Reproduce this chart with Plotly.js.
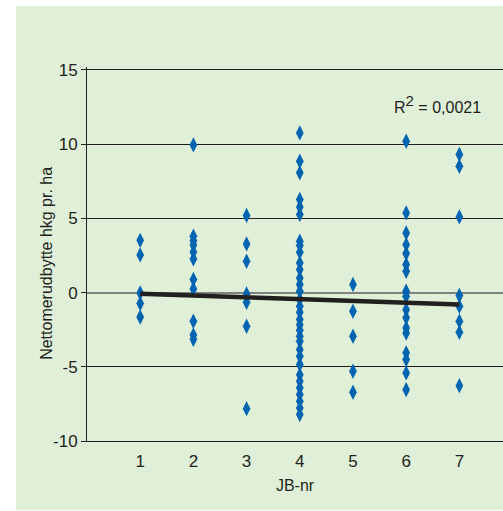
<!DOCTYPE html>
<html>
<head>
<meta charset="utf-8">
<script src="https://cdn.plot.ly/plotly-3.0.1.min.js"></script>
<style>
  html, body { margin: 0; padding: 0; background: #ffffff; width: 503px; height: 511px; overflow: hidden; }
  #chart { position: absolute; left: 16px; top: 6px; width: 487px; height: 504px; }
</style>
</head>
<body>
<div id="chart"></div>
<script>
// JB-nr categories and the net yield values
const jb1 = [3.52, 2.54, -0.02, -0.74, -1.64];
const jb2 = [9.95, 3.8, 3.5, 3.2, 2.74, 2.27, 0.88, 0.25, -1.93, -2.85, -3.15];
const jb3 = [5.2, 3.28, 2.11, -0.09, -0.65, -2.27, -7.82];
const jb4 = [10.76, 8.85, 8.07, 6.27, 5.77, 5.26, 3.46, 3.17, 2.72, 2.0, 1.55, 0.99, 0.54, 0.09,
             -0.47, -0.92, -1.33, -1.82, -2.16, -2.54, -2.94, -3.28, -3.84, -4.29, -4.85, -5.53,
             -5.98, -6.42, -6.87, -7.32, -7.77, -8.22];
const jb5 = [0.54, -1.26, -2.94, -5.3, -6.72];
const jb6 = [10.2, 5.37, 4.02, 3.23, 2.63, 1.89, 1.44, 0.09, -0.25, -1.15, -1.7, -2.38, -2.72,
             -4.06, -4.51, -5.41, -6.54];
const jb7 = [9.3, 8.51, 5.1, -0.2, -0.92, -1.93, -2.67, -6.27];
const groups = [jb1, jb2, jb3, jb4, jb5, jb6, jb7];

// trend line endpoints
const trendX = [1, 7];
const trendY = [-0.07, -0.8];

const xTicks = [1, 2, 3, 4, 5, 6, 7];
const yTicks = [-10, -5, 0, 5, 10, 15];
const r2Text = 'R<sup><span style="font-size:15px">2</span></sup> = 0,0021';
const yTitle = 'Nettomerudbytte hkg pr. ha';
const xTitle = 'JB-nr';

const xs = [], ys = [];
groups.forEach((g, i) => g.forEach(v => { xs.push(xTicks[i]); ys.push(v); }));

const ink = '#231f20';
const traces = [
  {
    type: 'scatter', mode: 'markers', x: xs, y: ys,
    marker: { symbol: 'diamond-tall', size: 11, color: '#0064b0', line: { width: 0 } },
    hoverinfo: 'skip'
  },
  {
    type: 'scatter', mode: 'lines', x: trendX, y: trendY,
    line: { color: ink, width: 4.5 },
    hoverinfo: 'skip'
  }
];

const layout = {
  width: 487, height: 504,
  paper_bgcolor: '#e0efd8', plot_bgcolor: 'rgba(0,0,0,0)',
  margin: { l: 70.5, r: 0, t: 61, b: 69 },
  showlegend: false,
  font: { family: 'Liberation Sans, Arial, sans-serif', size: 16, color: ink },
  xaxis: {
    range: [0, 7.82], tickvals: xTicks, ticktext: xTicks.map(String),
    showgrid: false, zeroline: false, showline: true, linecolor: ink, linewidth: 1,
    ticks: '', ticklabelstandoff: 5, tickfont: { size: 17, color: ink },
    title: { text: xTitle, font: { size: 16, color: ink }, standoff: 9 }
  },
  yaxis: {
    range: [-10, 15.2], tickvals: yTicks, ticktext: yTicks.map(String),
    showgrid: true, gridcolor: ink, gridwidth: 1,
    zeroline: true, zerolinecolor: '#7f8080', zerolinewidth: 2,
    showline: true, linecolor: ink, linewidth: 1,
    ticks: 'outside', ticklen: 5, tickcolor: ink, tickwidth: 1,
    tickfont: { size: 17, color: ink }
  },
  annotations: [
    { xref: 'paper', yref: 'paper', x: 0.842, y: 0.9, text: r2Text, showarrow: false,
      font: { size: 16, color: ink }, xanchor: 'center', yanchor: 'middle' },
    { xref: 'paper', yref: 'paper', x: 0, y: 0.475, xshift: -40.5, text: yTitle, textangle: -90,
      showarrow: false, font: { size: 16, color: ink }, xanchor: 'center', yanchor: 'middle' }
  ]
};

Plotly.newPlot('chart', traces, layout, { staticPlot: true, displayModeBar: false });
</script>
</body>
</html>
